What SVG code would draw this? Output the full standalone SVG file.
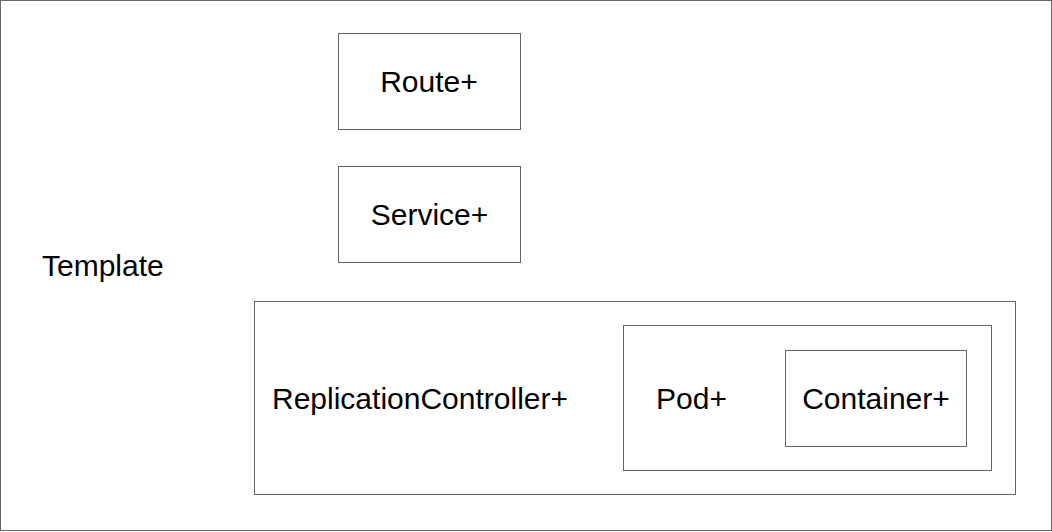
<svg xmlns="http://www.w3.org/2000/svg" width="1052" height="532" viewBox="0 0 1052 532">
<style>
.box{fill:#ffffff;stroke:#666666;stroke-width:1}
.lbl{font-family:"Liberation Sans",Arial,sans-serif;font-size:30px;fill:#000000}
.c{text-anchor:middle}
</style>
<rect width="1052" height="532" fill="#ffffff"/>
<g id="template">
<rect class="box" x="0.5" y="0.5" width="1051" height="530"/>
<text class="lbl" x="42" y="276">Template</text>
</g>
<g id="route">
<rect class="box" x="338.5" y="33.5" width="182" height="96"/>
<text class="lbl c" x="429" y="92">Route+</text>
</g>
<g id="service">
<rect class="box" x="338.5" y="166.5" width="182" height="96"/>
<text class="lbl c" x="429.5" y="225">Service+</text>
</g>
<g id="replicationcontroller">
<rect class="box" x="254.5" y="301.5" width="761" height="193"/>
<text class="lbl" x="272" y="409">ReplicationController+</text>
</g>
<g id="pod">
<rect class="box" x="623.5" y="325.5" width="368" height="145"/>
<text class="lbl" x="656" y="409">Pod+</text>
</g>
<g id="container">
<rect class="box" x="785.5" y="350.5" width="181" height="96"/>
<text class="lbl c" x="876" y="409">Container+</text>
</g>
<g id="connectors"></g>
</svg>
